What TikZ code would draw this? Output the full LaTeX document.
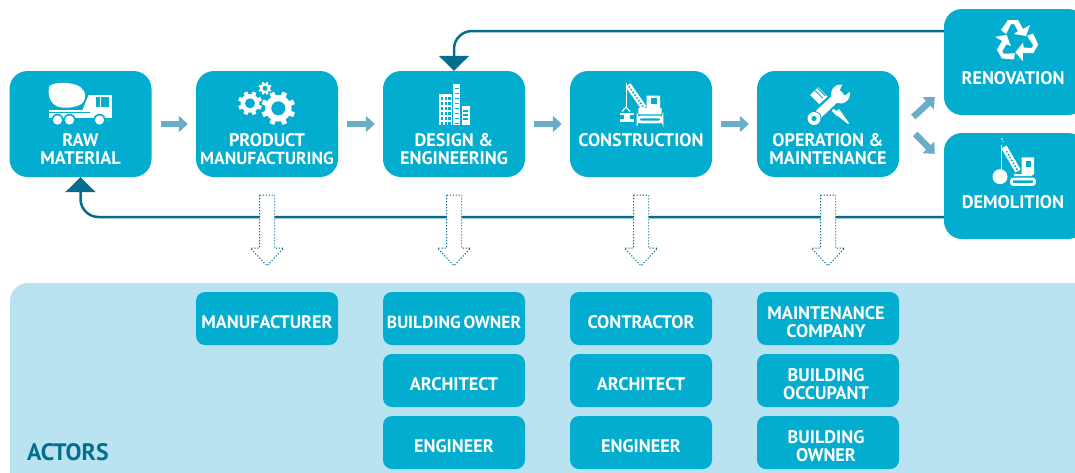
\documentclass[tikz,border=0pt]{standalone}
\usepackage{fontspec}
\setmainfont{PT Sans}
\usetikzlibrary{arrows.meta,calc}
\definecolor{BlockBlue}{HTML}{02ADD0}
\definecolor{PanelBlue}{HTML}{B9E3F1}
\definecolor{LineTeal}{HTML}{046E8F}
\definecolor{FlowGrey}{HTML}{69ADC6}
\newcommand{\tightword}[1]{{\fontsize{17.5}{18}\selectfont #1}}
\tikzset{
    block/.style = {fill=BlockBlue, rectangle, rounded corners=18pt,
        minimum height=106pt,
        minimum width=142pt},
    caption/.style = {anchor=north, align=center, text=white, inner sep=0pt,
        font=\fontsize{18.2}{18}\selectfont\bfseries},
    actor/.style = {fill=BlockBlue, rectangle, rounded corners=9pt,
        minimum height=53pt, minimum width=142pt, inner sep=0pt},
    actortext/.style = {anchor=center, yshift=-3.5pt, align=center, text=white, inner sep=0pt,
        font=\fontsize{18.2}{18}\selectfont\bfseries},
    flow/.style = {draw=FlowGrey, line width=6.5pt, -{Triangle[width=16pt,length=9pt]}},
    feedback/.style = {draw=LineTeal, line width=2.5pt, rounded corners=18pt,
        -{Triangle[width=30pt,length=15pt]}},
    dropout/.style = {draw=LineTeal, fill=white, line width=1pt, dash pattern=on 1.2pt off 1.8pt},
    icon/.style = {fill=white, draw=none},
    cut/.style = {fill=BlockBlue, draw=none}
}
\newcommand{\gearicon}[5]{% x, y, outer radius, hole radius, tooth width
    \foreach \a in {0,45,...,315}
        \draw[white,line width=#5pt] (#1,#2) ++(\a+22.5:#3*.6) -- ++(\a+22.5:#3*.4);
    \fill[icon] (#1,#2) circle (#3*.78);
    \fill[cut] (#1,#2) circle (#4);
}
\tikzset{
    truckicon/.pic = {
        \fill[icon] (-31,-38) .. controls (-25,-43) and (-5,-42) .. (1,-36)
            .. controls (6,-32) and (6,-24) .. (1,-20)
            .. controls (-6,-16) and (-18,-15) .. (-24,-18)
            .. controls (-32,-22) and (-33,-33) .. (-31,-38) -- cycle;
        \fill[icon] (-32,-14) rectangle (31,-6);
        \fill[icon] (9,-29) rectangle (31,-8);
        \fill[icon] (2,-14) -- (8,-29) -- (10,-29) -- (10,-14) -- cycle;
        \fill[cut] (15,-27) rectangle (19,-17);
        \fill[cut] (20.5,-27) rectangle (28,-17);
        \draw[BlockBlue,line width=1pt] (-32,-11.5) -- (9,-11.5);
        \foreach \wx in {-23,-11,19} {
            \fill[cut] (\wx,-4) circle (6.2);
            \fill[icon] (\wx,-4) circle (4.6);
        }
    },
    gearsicon/.pic = {
        \gearicon{11.3}{-15.7}{17}{7}{5}
        \gearicon{-17}{-20.7}{12}{5}{4}
        \gearicon{-2}{-35.7}{6.5}{2.5}{2}
    },
    buildingicon/.pic = {
        \fill[icon] (-14.8,-30.5) rectangle (-2.2,1);
        \fill[icon] (-1.2,-40) rectangle (6.2,1);
        \fill[icon] (7.5,-18) rectangle (15.5,1);
        \foreach \wx in {-13.2,-9.4,-5.6}
            \foreach \wy in {-27,-22,-17,-12,-7,-2}
                \fill[cut] (\wx,\wy) rectangle ++(2.6,3);
        \foreach \wy in {-36,-31,-26,-21,-16,-11,-6,-1}
            \fill[cut] (1.2,\wy) rectangle ++(3.6,1.4);
        \foreach \wy in {-14,-10,-6}
            \fill[cut] (9,\wy) rectangle ++(5,1.8);
    },
    craneicon/.pic = {
        \draw[white,line width=2.8pt,rounded corners=3pt] (-3,-7) rectangle (21,-2);
        \fill[icon] (-2.7,-16) -- (5.7,-16) -- (5.7,-28.3) -- (19,-28.3) -- (19,-16) -- (20.7,-16) -- (20.7,-9.7) -- (-2.7,-9.7) -- cycle;
        \fill[cut] (9.7,-25.7) rectangle (15.7,-19.7);
        \draw[white,line width=6pt] (-13,-39) -- (3,-16);
        \foreach \bt in {.08,.2,...,.95}
            \fill[cut] ($(-13,-39)!\bt!(3,-16)$) circle (1.1);
        \draw[white,line width=1pt] (-15,-41) -- (-15,-17);
        \draw[white,line width=1.2pt] (-19,-12.5) -- (-15,-17) -- (-11,-12.5);
        \fill[icon] (-21,-11.3) rectangle (-7,-9);
        \fill[icon] (-17,-9) rectangle (-11,-5);
        \fill[icon] (-21,-5) rectangle (-7,-2.3);
    },
    wreckericon/.pic = {
        \draw[white,line width=2.8pt,rounded corners=2pt] (-3.5,-7) rectangle (19.5,-1.5);
        \fill[icon] (-1,-12) -- (6.5,-12) -- (6.5,-28.7) -- (19,-28.7) -- (19,-12) -- (16,-10) -- (-1,-10) -- cycle;
        \fill[cut] (10.5,-25) rectangle (15.5,-19.5);
        \draw[white,line width=6pt] (-11,-39) -- (3,-15);
        \foreach \bt in {.2,.32,...,.95}
            \fill[cut] ($(-11,-39)!\bt!(3,-15)$) circle (1.1);
        \draw[white,line width=1pt] (-14,-41) -- (-14,-15);
        \fill[icon] (-15,-9.3) circle (7.5);
        \fill[icon] (-13,-47) circle (.9) (-12,-44.5) circle (.7);
    },
    recycleicon/.pic = {
        \foreach \r in {0,120,240}
            \fill[icon,rotate around={\r:(1,-21)},shift={(1,-21)}]
                (-15,-11) -- (-8,-21) -- (2,-21) -- (7,-12) -- (14,-16) -- (10,-5)
                -- (-2,-7) -- (2,-10) -- (-2,-17) -- (-5,-17) -- (-10,-7) -- cycle;
    },
    toolsicon/.pic = {
        \draw[white,line width=11pt] (-14,-33) -- (-3,-22);
        \draw[BlockBlue,line width=.9pt] (-15.5,-36) -- (-5.5,-26) (-12.5,-38) -- (-2.5,-28);
        \draw[white,line width=3pt] (-3,-22) -- (10,-9);
        \fill[icon] (6,-11) -- (11,-15) -- (21,-1) -- (20,0) -- cycle;
        \draw[BlockBlue,line width=13pt] (-13,-7) -- (9,-27);
        \draw[white,line width=8.5pt] (-14,-5.5) -- (10,-28);
        \fill[cut] (-14,-5.5) circle (7.5);
        \fill[icon] (-14,-5.5) circle (6.5);
        \fill[cut] (-14,-5.5) circle (2.6);
        \fill[icon] (12.5,-30) circle (9.5);
        \fill[cut] (12,-34) -- (16,-43) -- (26,-36) -- (17,-28.5) -- cycle;
    }
}
\begin{document}
\begin{tikzpicture}[x=1pt,y=-1pt]
    \useasboundingbox (0,0) rectangle (1075,472);
    % actors panel
    \fill[color=PanelBlue,rounded corners=18pt] (10,283) rectangle (1110,500);
    \node [anchor=west,inner sep=0pt,text=LineTeal,font=\fontsize{23.8}{24}\selectfont\bfseries] (actors) at (27,452) {ACTORS};
    % life cycle stages
    \node [block] (raw) at (80.5,124) {};
    \node [block] (product) at (267,124) {};
    \node [block] (design) at (454,124) {};
    \node [block] (construction) at (641,124) {};
    \node [block] (operation) at (828,124) {};
    \node [block] (renovation) at (1015,62) {};
    \node [block] (demolition) at (1015,186) {};
    \node [caption] (rawtext) at (80.5,133) {RAW\\MATERIAL};
    \node [caption] (producttext) at (267,133) {PRODUCT\\\tightword{MANUFACTURING}};
    \node [caption] (designtext) at (454,133) {DESIGN \&\\ENGINEERING};
    \node [caption] (constructiontext) at (641,133) {CONSTRUCTION};
    \node [caption] (operationtext) at (828,133) {OPERATION \&\\MAINTENANCE};
    \node [caption] (renovationtext) at (1013,71) {RENOVATION};
    \node [caption] (demolitiontext) at (1013,195) {DEMOLITION};
    \pic at (raw) {truckicon};
    \pic at (product) {gearsicon};
    \pic at (design) {buildingicon};
    \pic at (construction) {craneicon};
    \pic at (operation) {toolsicon};
    \pic at (renovation) {recycleicon};
    \pic at (demolition) {wreckericon};
    % actors
    \node [actor,label={[actortext]center:MANUFACTURER}] (manufacturer) at (267,318.5) {};
    \node [actor,label={[actortext]center:\tightword{BUILDING\,OWNER}}] (owner) at (454,318.5) {};
    \node [actor,label={[actortext]center:ARCHITECT}] (architect) at (454,380.5) {};
    \node [actor,label={[actortext]center:ENGINEER}] (engineer) at (454,442.5) {};
    \node [actor,label={[actortext]center:CONTRACTOR}] (contractor) at (641,318.5) {};
    \node [actor,label={[actortext]center:ARCHITECT}] (architectb) at (641,380.5) {};
    \node [actor,label={[actortext]center:ENGINEER}] (engineerb) at (641,442.5) {};
    \node [actor,label={[actortext,xshift=-2pt]center:MAINTENANCE\\COMPANY}] (company) at (828,318.5) {};
    \node [actor,label={[actortext,xshift=-2pt]center:BUILDING\\OCCUPANT}] (occupant) at (828,380.5) {};
    \node [actor,label={[actortext,xshift=-2pt]center:BUILDING\\OWNER}] (ownerb) at (828,442.5) {};
    % connectors
    \foreach \from/\to in {raw/product,product/design,design/construction,construction/operation}
        \draw [flow] ($(\from.east)+(9,0)$) -- ($(\to.west)+(-8,0)$);
    \draw [flow] ($(operation.east)+(14,-7)$) -- ($(renovation.south west)+(-9,-18)$);
    \draw [flow] ($(operation.east)+(16,10)$) -- ($(demolition.north west)+(-9,21)$);
    \coordinate (renoout) at (renovation.west |- 0,31);
    \coordinate (demoout) at (demolition.west |- 0,217);
    \draw [feedback] (renoout) -| (design.north);
    \draw [feedback] (demoout) -| (raw.south);
    \foreach \from/\to in {product/manufacturer,design/owner,construction/contractor,operation/company}
        \draw [dropout] ($(\from.south)+(-7.5,18)$) -- ++(0,53) -- ++(-9,0)
            -- ($(\to.north)+(0,-26)$) -- ($(\from.south)+(16.5,71)$) -- ++(-9,0)
            -- ++(0,-53) -- cycle;
\end{tikzpicture}
\end{document}
